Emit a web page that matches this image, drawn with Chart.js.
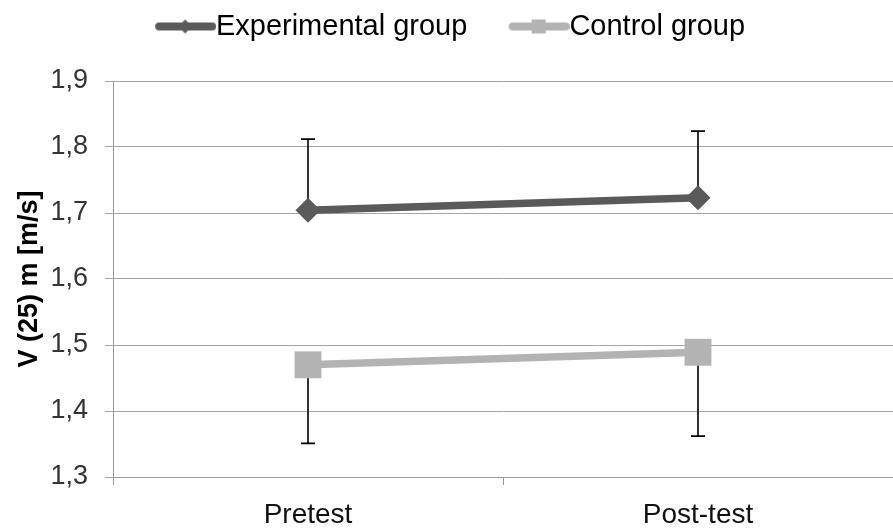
<!DOCTYPE html>
<html>
<head>
<meta charset="utf-8">
<script src="https://cdn.jsdelivr.net/npm/chart.js@4.4.1/dist/chart.umd.min.js"></script>
<style>
  html, body { margin: 0; padding: 0; background: #fff; }
  #wrap { width: 893px; height: 529px; }
</style>
</head>
<body>
<div id="wrap"><canvas id="c"></canvas></div>
<script>
'use strict'

var labels = ['Pretest', 'Post-test'];
var experimental = [1.704, 1.723];
var experimentalErr = [0.108, 0.101];   // only drawn upward
var control = [1.470, 1.489];
var controlErr = [0.119, 0.127];        // only drawn downward
var yTicks = [1.3, 1.4, 1.5, 1.6, 1.7, 1.8, 1.9];

var darkGrey = '#5a5a5a';
var lightGrey = '#b3b3b3';

Chart.defaults.font.family = "'Liberation Sans', Arial, sans-serif";

// legend marker: thick line with the point shape in the middle
function legendMark(color, shape) {
  var c = document.createElement('canvas');
  c.width = 107; c.height = 30;
  var g = c.getContext('2d');
  var x0 = 107 - 61, cy = 15, cx = x0 + 30;
  g.strokeStyle = color;
  g.fillStyle = color;
  g.lineWidth = 8;
  g.lineCap = 'round';
  g.beginPath(); g.moveTo(x0 + 4, cy); g.lineTo(107 - 4, cy); g.stroke();
  g.beginPath();
  if (shape === 'diamond') {
    g.moveTo(cx, cy - 7); g.lineTo(cx + 7, cy); g.lineTo(cx, cy + 7); g.lineTo(cx - 7, cy);
  } else {
    g.rect(cx - 7, cy - 7, 14, 14);
  }
  g.fill();
  return c;
}
var marks = [legendMark(darkGrey, 'diamond'), legendMark(lightGrey, 'square')];

var errorBars = {
  id: 'errorBars',
  beforeDatasetsDraw: function(chart) {
    var ctx = chart.ctx, y = chart.scales.y;
    ctx.save();
    ctx.strokeStyle = '#000';
    ctx.lineWidth = 1.6;
    chart.data.datasets.forEach(function(ds, i) {
      chart.getDatasetMeta(i).data.forEach(function(pt, j) {
        var v = ds.data[j];
        var top = y.getPixelForValue(v + (ds.errUp ? ds.errUp[j] : 0));
        var bot = y.getPixelForValue(v - (ds.errDown ? ds.errDown[j] : 0));
        ctx.beginPath();
        ctx.moveTo(pt.x, top); ctx.lineTo(pt.x, bot);
        if (ds.errUp) { ctx.moveTo(pt.x - 7, top); ctx.lineTo(pt.x + 7, top); }
        if (ds.errDown) { ctx.moveTo(pt.x - 7, bot); ctx.lineTo(pt.x + 7, bot); }
        ctx.stroke();
      });
    });
    ctx.restore();
  }
};

var legendSpace = {
  id: 'legendSpace',
  afterInit: function(chart) {
    var fit = chart.legend.fit;
    chart.legend.fit = function() { fit.call(this); this.height += 32; };
  },
  afterLayout: function(chart) {
    chart.legend.left -= 12;
    chart.legend.right -= 12;
    chart.legend.top += 2;
    chart.legend.bottom += 2;
  }
};

new Chart(document.getElementById('c'), {
  type: 'line',
  data: {
    labels: labels,
    datasets: [{
      label: 'Experimental group',
      data: experimental,
      errUp: experimentalErr,
      borderColor: darkGrey,
      backgroundColor: darkGrey,
      borderWidth: 7.5,
      pointStyle: 'rectRot',
      pointRadius: 12.5,
      pointBorderWidth: 0,
      clip: false
    }, {
      label: 'Control group',
      data: control,
      errDown: controlErr,
      borderColor: lightGrey,
      backgroundColor: lightGrey,
      borderWidth: 7.5,
      pointStyle: 'rect',
      pointRadius: 19,
      pointBorderWidth: 0,
      clip: false
    }]
  },
  options: {
    responsive: true,
    maintainAspectRatio: false,
    animation: false,
    layout: { padding: 0, autoPadding: false },
    plugins: {
      tooltip: { enabled: false },
      legend: {
        labels: {
          usePointStyle: true,
          pointStyleWidth: 77.5,
          padding: 10,
          color: '#000',
          font: { size: 29 },
          generateLabels: function(chart) {
            return chart.data.datasets.map(function(ds, i) {
              return { text: ds.label, pointStyle: marks[i], datasetIndex: i, lineWidth: 0, hidden: false };
            });
          }
        }
      }
    },
    scales: {
      x: {
        offset: true,
        grid: { offset: true, drawOnChartArea: false, tickLength: 8, color: '#999' },
        border: { color: '#999' },
        ticks: { font: { size: 28 }, color: '#111', padding: 13 },
        afterFit: function(s) { s.height = 52; }
      },
      y: {
        min: 1.3,
        max: 1.9,
        afterBuildTicks: function(s) { s.ticks = yTicks.map(function(v) { return { value: v }; }); },
        grid: { color: '#a6a6a6', tickLength: 8 },
        border: { color: '#999' },
        ticks: {
          font: { size: 27 },
          color: '#333',
          padding: 17,
          callback: function(v) { return v.toFixed(1).replace('.', ','); }
        },
        title: {
          display: true,
          text: 'V (25) m [m/s]',
          color: '#000',
          font: { size: 27, weight: 'bold' },
          padding: { top: 13, bottom: 0 }
        },
        afterFit: function(s) { s.width = 113; }
      }
    }
  },
  plugins: [errorBars, legendSpace]
});
</script>
</body>
</html>
